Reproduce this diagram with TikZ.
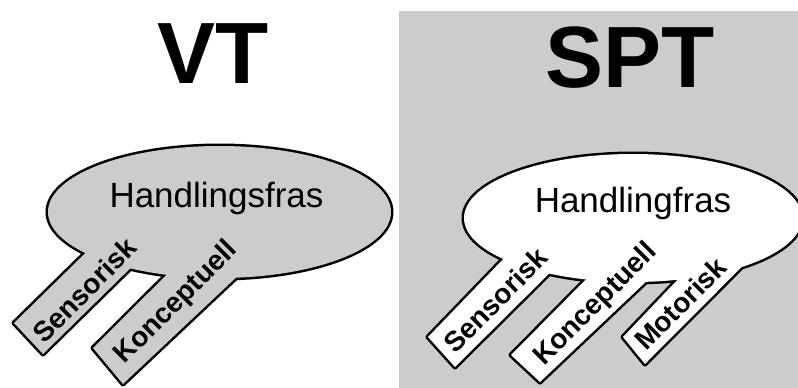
\documentclass[tikz,border=0pt]{standalone}
\usepackage{fontspec}
\setmainfont{Liberation Sans}
\definecolor{panelgray}{RGB}{204,204,204}
\begin{document}
\begin{tikzpicture}[x=1pt,y=-1pt,
  title/.style={font=\fontsize{87}{87}\selectfont\bfseries, inner sep=0pt, anchor=base},
  head/.style={font=\fontsize{35}{35}\selectfont, inner sep=0pt, anchor=base},
  tablabel/.style={font=\fontsize{28}{28}\selectfont\bfseries, inner sep=0pt, rotate=45, anchor=center},
  outline/.style={draw=black, line width=5pt, line join=round},
]
\useasboundingbox (0,0) rectangle (798,388);
\fill[white] (0,0) rectangle (798,388);
\fill[panelgray] (399,11) rectangle (798,388);

% ---------- left (VT) ----------
\path[outline] (219.5,212) ellipse [x radius=171.5pt, y radius=66pt];
\path[outline] (14,323) -- (43,354) -- (176.5,223) -- (118,221) -- cycle;
\path[outline] (93,348) -- (123,384) -- (294,223) -- (206,235.5) -- cycle;
\fill[panelgray] (219.5,212) ellipse [x radius=171.5pt, y radius=66pt];
\fill[panelgray] (14,323) -- (43,354) -- (176.5,223) -- (118,221) -- cycle;
\fill[panelgray] (93,348) -- (123,384) -- (294,223) -- (206,235.5) -- cycle;

% ---------- right (SPT) ----------
\path[outline] (633,218) ellipse [x radius=169pt, y radius=64pt];
\path[outline] (428,337) -- (455,367) -- (594.5,228.5) -- (536.5,224.5) -- cycle;
\path[outline] (511,355) -- (540,382) -- (697.5,233) -- (619.5,245.5) -- cycle;
\path[outline] (623,337) -- (645,364) -- (783,225.5) -- (701.5,254.5) -- cycle;
\fill[white] (633,218) ellipse [x radius=169pt, y radius=64pt];
\fill[white] (428,337) -- (455,367) -- (594.5,228.5) -- (536.5,224.5) -- cycle;
\fill[white] (511,355) -- (540,382) -- (697.5,233) -- (619.5,245.5) -- cycle;
\fill[white] (623,337) -- (645,364) -- (783,225.5) -- (701.5,254.5) -- cycle;

% ---------- texts ----------
\node[title] (vt) at (213,83) {VT};
\node[title] (spt) at (630,87) {SPT};
\node[head] (hl) at (216.5,207) {Handlingsfras};
\node[head] (hr) at (633,212) {Handlingfras};
\node[tablabel] (sl) at (84.5,290) {Sensorisk};
\node[tablabel] (kl) at (176.5,303) {Konceptuell};
\node[tablabel] (sr) at (495.5,300) {Sensorisk};
\node[tablabel] (kr) at (596,305) {Konceptuell};
\node[tablabel] (mr) at (680.5,303.5) {Motorisk};
\end{tikzpicture}
\end{document}
